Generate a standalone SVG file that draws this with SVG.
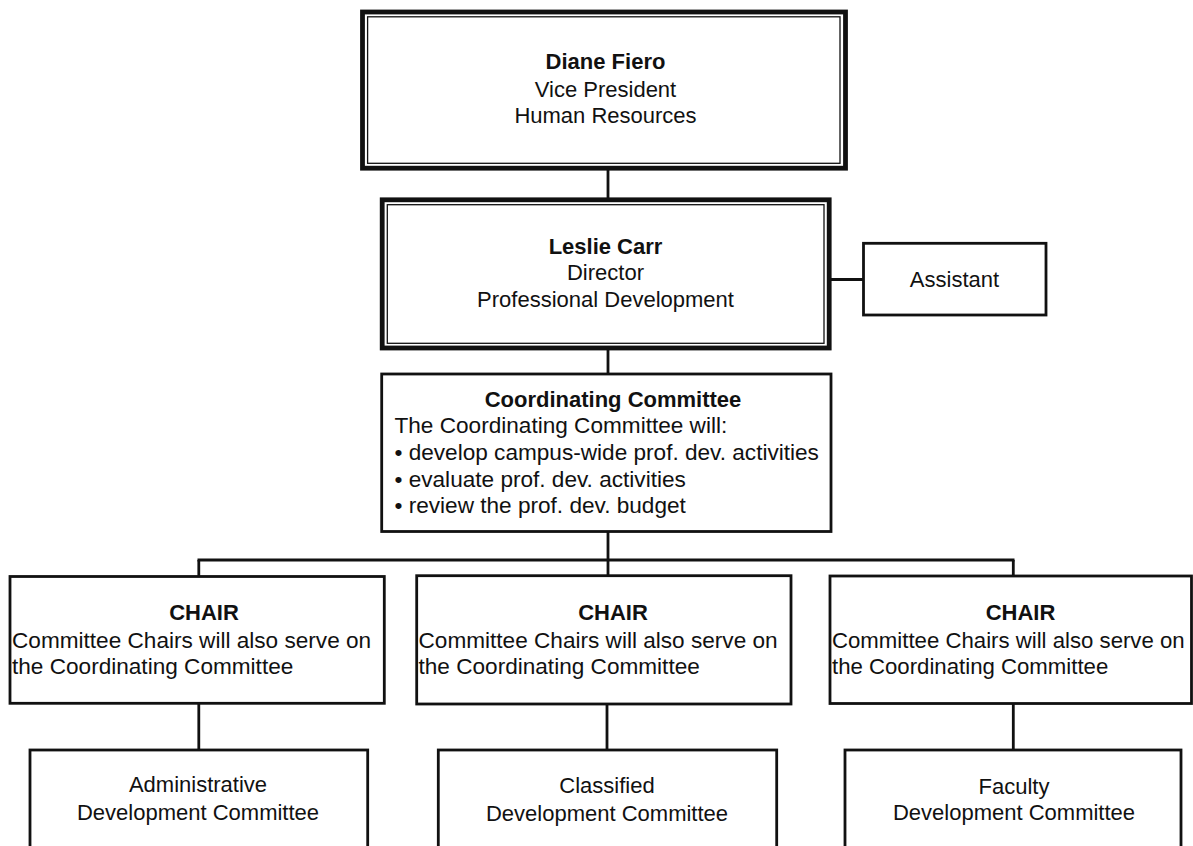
<svg xmlns="http://www.w3.org/2000/svg" width="1193" height="846" viewBox="0 0 1193 846">
<style>
.box{fill:#fff;stroke:#111;stroke-width:2.8}
.thick{fill:#fff;stroke:#111;stroke-width:4.8}
.thin{fill:none;stroke:#111;stroke-width:1.3}
.conn{fill:none;stroke:#111;stroke-width:2.8}
text{font-family:"Liberation Sans",Arial,sans-serif;font-size:22px;fill:#111}
.w{font-size:22.6px}
.n{font-size:22.2px}
.b{font-weight:bold}
.c{text-anchor:middle}
</style>
<rect width="1193" height="846" fill="#fff"/>
<g id="connectors">
<line class="conn" x1="608" y1="168" x2="608" y2="200"/>
<line class="conn" x1="829" y1="279.5" x2="864" y2="279.5"/>
<line class="conn" x1="608" y1="348" x2="608" y2="374"/>
<line class="conn" x1="608" y1="531" x2="608" y2="576"/>
<line class="conn" x1="197.5" y1="560" x2="1014.5" y2="560"/>
<line class="conn" x1="198.8" y1="560" x2="198.8" y2="576"/>
<line class="conn" x1="1013.3" y1="560" x2="1013.3" y2="576"/>
<line class="conn" x1="198.8" y1="703" x2="198.8" y2="750"/>
<line class="conn" x1="607" y1="704" x2="607" y2="750"/>
<line class="conn" x1="1013.3" y1="703" x2="1013.3" y2="750"/>
</g>
<g id="vp">
<rect class="thick" x="362.5" y="12" width="483" height="156.2"/>
<rect class="thin" x="367.6" y="16.8" width="472.4" height="146.5"/>
<text class="c b" x="605.5" y="69">Diane Fiero</text>
<text class="c" x="605.5" y="96.5">Vice President</text>
<text class="c" x="605.5" y="123">Human Resources</text>
</g>
<g id="director">
<rect class="thick" x="382.2" y="199.8" width="447" height="148.2"/>
<rect class="thin" x="387.3" y="204.7" width="436.7" height="138.6"/>
<text class="c b" x="605.5" y="254">Leslie Carr</text>
<text class="c" x="605.5" y="280.3">Director</text>
<text class="c" x="605.5" y="306.5">Professional Development</text>
</g>
<g id="assistant">
<rect class="box" x="863.5" y="243.3" width="182.5" height="71.7"/>
<text class="c" x="954.5" y="286.7">Assistant</text>
</g>
<g id="coordinating">
<rect class="box" x="381.7" y="374" width="449.3" height="157.5"/>
<text class="c b" x="613" y="406.7">Coordinating Committee</text>
<text class="w" x="394.5" y="433.3">The Coordinating Committee will:</text>
<text class="w" x="394.5" y="459.8">• develop campus-wide prof. dev. activities</text>
<text class="w" x="394.5" y="486.5">• evaluate prof. dev. activities</text>
<text class="w" x="394.5" y="513.2">• review the prof. dev. budget</text>
</g>
<g id="chair-left">
<rect class="box" x="10" y="576.5" width="374.3" height="126.8"/>
<text class="c b" x="204" y="620">CHAIR</text>
<text class="w" x="12" y="648.3">Committee Chairs will also serve on</text>
<text class="w" x="12" y="673.5">the Coordinating Committee</text>
</g>
<g id="chair-middle">
<rect class="box" x="416.7" y="575.7" width="374.3" height="128.3"/>
<text class="c b" x="613" y="620">CHAIR</text>
<text class="w" x="418.5" y="648.3">Committee Chairs will also serve on</text>
<text class="w" x="418.5" y="673.5">the Coordinating Committee</text>
</g>
<g id="chair-right">
<rect class="box" x="830" y="576" width="361.5" height="127.5"/>
<text class="c b" x="1020.5" y="620">CHAIR</text>
<text class="n" x="832" y="648.3">Committee Chairs will also serve on</text>
<text class="n" x="832" y="673.5">the Coordinating Committee</text>
</g>
<g id="admin">
<rect class="box" x="30" y="750" width="337.7" height="110"/>
<text class="c" x="198" y="792">Administrative</text>
<text class="c" x="198" y="820">Development Committee</text>
</g>
<g id="classified">
<rect class="box" x="438.3" y="750" width="338.4" height="110"/>
<text class="c" x="607" y="793">Classified</text>
<text class="c" x="607" y="821">Development Committee</text>
</g>
<g id="faculty">
<rect class="box" x="845" y="750" width="336" height="110"/>
<text class="c" x="1014" y="794">Faculty</text>
<text class="c" x="1014" y="820">Development Committee</text>
</g>
</svg>
